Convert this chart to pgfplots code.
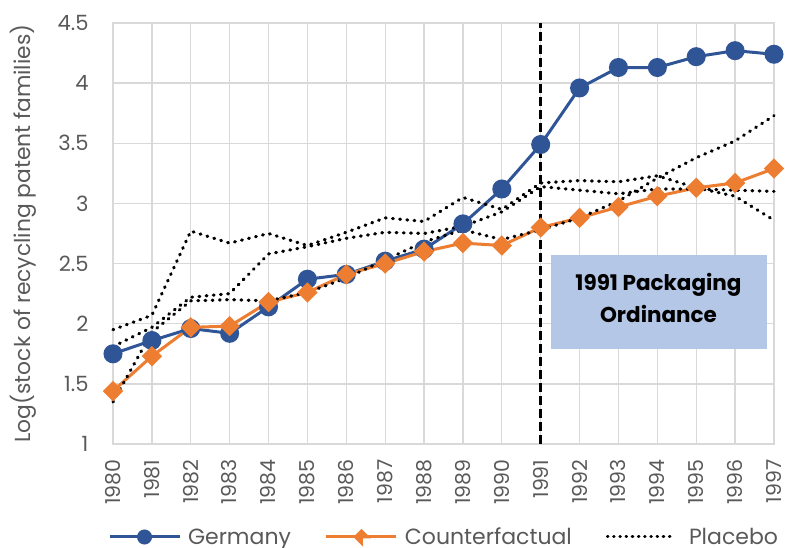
\documentclass[border=0pt]{standalone}
\usepackage{fontspec}
\setmainfont{Poppins}
\usepackage{pgfplots}
\pgfplotsset{compat=1.18}
\definecolor{germ}{HTML}{2F5597}
\definecolor{cf}{HTML}{ED7D31}
\definecolor{gridc}{HTML}{D9D9D9}
\definecolor{txt}{HTML}{595959}
\definecolor{boxc}{HTML}{B4C7E7}
\pgfplotstableread{
year germany counter pA pB pC
1980 1.75 1.44 1.95 1.81 1.35
1981 1.86 1.73 2.07 1.97 1.93
1982 1.96 1.97 2.77 2.22 2.19
1983 1.92 1.98 2.67 2.25 2.20
1984 2.14 2.18 2.75 2.58 2.19
1985 2.37 2.26 2.65 2.64 2.26
1986 2.41 2.41 2.76 2.71 2.38
1987 2.52 2.50 2.88 2.76 2.53
1988 2.62 2.60 2.85 2.75 2.68
1989 2.83 2.67 3.05 2.81 2.78
1990 3.12 2.65 2.95 2.93 2.70
1991 3.49 2.80 3.17 3.14 2.78
1992 3.96 2.88 3.19 3.11 2.88
1993 4.13 2.97 3.18 3.08 3.02
1994 4.13 3.06 3.23 3.12 3.21
1995 4.22 3.13 3.13 3.12 3.38
1996 4.27 3.17 3.06 3.11 3.52
1997 4.24 3.29 2.86 3.10 3.73
}\datatable
\tikzset{placebo/.style={black, line width=3.2pt, line cap=round, dash pattern=on 0.8pt off 6.4pt}}
\begin{document}
\begin{tikzpicture}
\begin{axis}[
  scale only axis, width=661pt, height=421pt,
  xmin=1980, xmax=1997, ymin=1, ymax=4.5,
  xtick={1980,1981,...,1997}, ytick={1,1.5,...,4.5},
  grid=major, major grid style={draw=gridc, line width=1.3pt},
  axis line style={draw=gridc, line width=1.3pt},
  major tick length=0pt,
  clip=false,
  /pgf/number format/assume math mode=true,
  /pgf/number format/1000 sep={},
  xticklabel shift=12pt,
  yticklabel shift=21pt,
  xticklabel style={rotate=90, anchor=east, font=\fontsize{20.5}{24}\selectfont, text=txt},
  yticklabel style={font=\fontsize{21}{24}\selectfont, text=txt, anchor=east},
  ylabel={Log(stock of recycling patent families)},
  ylabel style={at={(axis description cs:-0.136,0.5)}, anchor=center, font=\fontsize{21.8}{26}\selectfont, text=txt},
  legend columns=3,
  legend cell align=left,
  legend style={at={(rel axis cs:0,0)}, anchor=center, xshift=331pt, yshift=-93pt, draw=none, fill=none,
    font=\fontsize{22}{26}\selectfont, text=txt, inner sep=0pt,
    /tikz/every odd column/.append style={column sep=0pt},
    /tikz/every even column/.append style={column sep=32pt}},
]
\path (rel axis cs:0,0) coordinate (ll) (rel axis cs:1,1) coordinate (ur);
\node[fill=boxc, minimum width=216pt, minimum height=94pt, inner sep=0pt]
  at (axis cs:1994.03,2.18) {};
\node[font=\bfseries\fontsize{21.5}{32}\selectfont, align=center, text=black]
  at (axis cs:1994.03,2.215) {1991 Packaging\\Ordinance};
\addplot[germ, line width=3pt, mark=*, mark size=8pt,
  legend image code/.code={\draw[germ, line width=3pt] (0pt,0pt) -- (70pt,0pt); \fill[germ] (35pt,0pt) circle (6pt); \path (75pt,0pt);}]
  table[x=year, y=germany] {\datatable};
\addlegendentry{Germany}
\addplot[cf, line width=3pt, mark=square*, mark size=5.7pt, mark options={rotate=45},
  legend image code/.code={\draw[cf, line width=3pt] (0pt,0pt) -- (70pt,0pt); \fill[cf] (35pt,0pt) -- ++(6pt,0pt) -- ++(-6pt,6pt) -- ++(-6pt,-6pt) -- ++(6pt,-6pt) -- cycle; \path (75pt,0pt);}]
  table[x=year, y=counter] {\datatable};
\addlegendentry{Counterfactual}
\addplot[placebo,
  legend image code/.code={\draw[black, line width=3pt, line cap=round, dash pattern=on 0.6pt off 5.6pt] (0pt,0pt) -- (66pt,0pt); \path (78pt,0pt);}]
  table[x=year, y=pA] {\datatable};
\addlegendentry{Placebo}
\addplot[forget plot, placebo] table[x=year, y=pB] {\datatable};
\addplot[forget plot, placebo] table[x=year, y=pC] {\datatable};
\addplot[forget plot, black, line width=2.8pt, dash pattern=on 9pt off 4pt]
  coordinates {(1991,1) (1991,4.5)};
\end{axis}
\pgfresetboundingbox
\path[use as bounding box] ([shift={(-113pt,-104pt)}]ll) rectangle ([shift={(11pt,23pt)}]ur);
\end{tikzpicture}
\end{document}
